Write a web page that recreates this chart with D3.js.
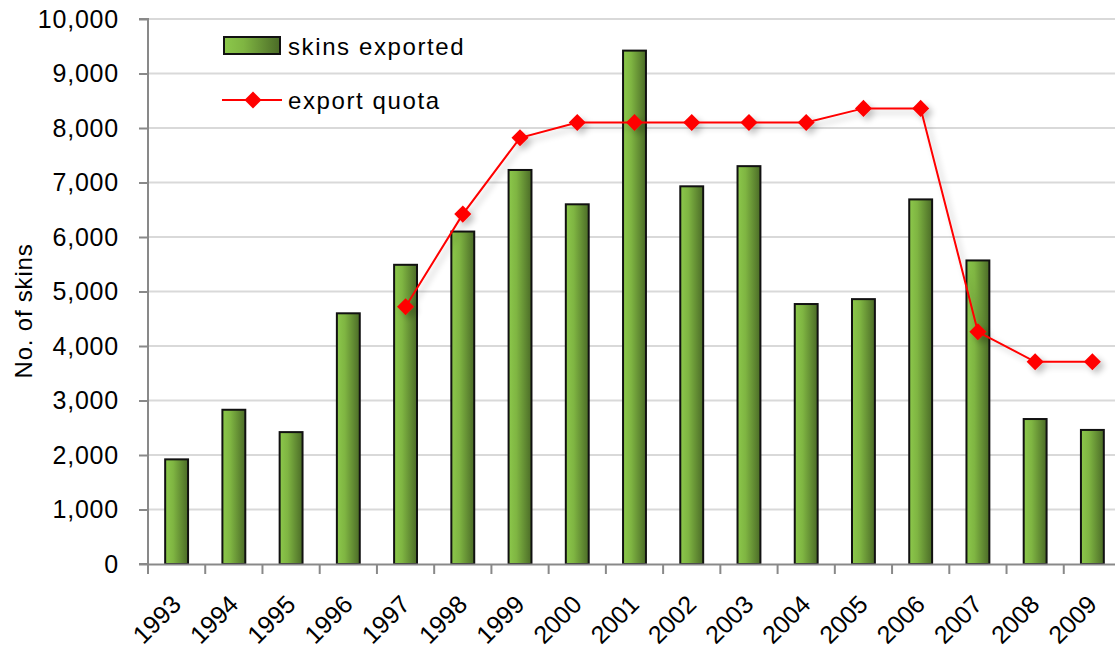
<!DOCTYPE html>
<html><head><meta charset="utf-8">
<script src="https://cdn.jsdelivr.net/npm/d3@7"></script>
<style>
body{margin:0;background:#fff;}
text{font-family:"Liberation Sans",Arial,sans-serif;fill:#000;}
</style></head>
<body><svg id="c" width="1115" height="655"></svg>
<script>
const years = ["1993","1994","1995","1996","1997","1998","1999","2000","2001","2002","2003","2004","2005","2006","2007","2008","2009"];
const skinsExported = [1920,2830,2420,4600,5490,6100,7230,6600,9420,6930,7300,4770,4860,6690,5570,2660,2460];
const exportQuota = [null,null,null,null,4720,6420,7820,8100,8100,8100,8100,8100,8360,8360,4260,3710,3710];
const yTicks = [0,1000,2000,3000,4000,5000,6000,7000,8000,9000,10000];

const svg = d3.select("#c");
const L = 148, R = 1121, T = 19, B = 564;
const FS = 24;
const x = d3.scaleBand().domain(years).range([L, R]).paddingInner(0).paddingOuter(0);
const y = d3.scaleLinear().domain([0, 10000]).range([B, T]);

const defs = svg.append("defs");
const g = defs.append("linearGradient").attr("id","bg").attr("x1","0").attr("x2","1").attr("y1","0").attr("y2","0");
g.append("stop").attr("offset","0%").attr("stop-color","#8cc84b");
g.append("stop").attr("offset","35%").attr("stop-color","#7fb542");
g.append("stop").attr("offset","100%").attr("stop-color","#4b6b27");
const f = defs.append("filter").attr("id","sh").attr("x","-10%").attr("y","-10%").attr("width","130%").attr("height","130%");
f.append("feGaussianBlur").attr("in","SourceAlpha").attr("stdDeviation","3");
f.append("feOffset").attr("dx","4").attr("dy","4").attr("result","ob");
f.append("feComponentTransfer").append("feFuncA").attr("type","linear").attr("slope","0.25");
const fm = f.append("feMerge"); fm.append("feMergeNode"); fm.append("feMergeNode").attr("in","SourceGraphic");

// gridlines
svg.append("g").selectAll("line").data(yTicks.filter(d=>d>0)).join("line")
  .attr("x1", L).attr("x2", R).attr("y1", d=>y(d)).attr("y2", d=>y(d))
  .attr("stroke","#d9d9d9").attr("stroke-width",2);

// y axis
const ya = svg.append("g").attr("transform",`translate(${L},0)`)
  .call(d3.axisLeft(y).tickValues(yTicks).tickSize(9).tickPadding(20).tickFormat(d3.format(",")));
ya.select(".domain").attr("stroke","#898989").attr("stroke-width",2).attr("d",`M-9,${T}H0V${B}H-9`);
ya.selectAll(".tick line").attr("stroke","#898989").attr("stroke-width",2);
ya.selectAll("text").attr("font-size",FS+1).attr("letter-spacing",0.8).attr("font-family","Liberation Sans, Arial, sans-serif").attr("fill","#000");

// bars
svg.append("g").selectAll("rect").data(years).join("rect")
  .attr("x", d=>x(d)+x.bandwidth()*0.3)
  .attr("width", x.bandwidth()*0.4)
  .attr("y", (d,i)=>y(skinsExported[i]))
  .attr("height", (d,i)=>B - y(skinsExported[i]))
  .attr("fill","url(#bg)").attr("stroke","#111").attr("stroke-width",2);

// x axis
const xa = svg.append("g").attr("transform",`translate(0,${B})`)
  .call(d3.axisBottom(x).tickSize(0).tickPadding(0).tickFormat(""));
xa.select(".domain").attr("stroke","#898989").attr("stroke-width",2);
svg.append("g").selectAll("line").data(years).join("line")
  .attr("x1",d=>x(d)).attr("x2",d=>x(d))
  .attr("y1",B).attr("y2",B+10).attr("stroke","#898989").attr("stroke-width",2);
svg.append("g").selectAll("text").data(years).join("text")
  .attr("transform", d=>`translate(${x(d)+x.bandwidth()/2+6},${B+42}) rotate(-45)`)
  .attr("text-anchor","end")
  .attr("font-size",FS+1).text(d=>d);

// quota line
const pts = years.map((d,i)=>({d, v: exportQuota[i]})).filter(p=>p.v!==null);
const line = d3.line().x(p=>x(p.d)+x.bandwidth()/2).y(p=>y(p.v));
const lg = svg.append("g").attr("filter","url(#sh)");
lg.append("path").datum(pts).attr("d",line).attr("fill","none").attr("stroke","#ff0000").attr("stroke-width",2);
lg.selectAll("path.m").data(pts).join("path").attr("class","m")
  .attr("transform",p=>`translate(${x(p.d)+x.bandwidth()/2},${y(p.v)})`)
  .attr("d", d3.symbol().type(d3.symbolDiamond2).size(185))
  .attr("fill","#ff0000");

// legend
svg.append("rect").attr("x",224).attr("y",37).attr("width",56).attr("height",17)
  .attr("fill","url(#bg)").attr("stroke","#111").attr("stroke-width",2);
svg.append("text").attr("x",288).attr("y",46).attr("dominant-baseline","central").attr("font-size",FS).attr("letter-spacing",1.6).text("skins exported");
svg.append("line").attr("x1",222).attr("x2",282).attr("y1",100).attr("y2",100).attr("stroke","#ff0000").attr("stroke-width",2);
svg.append("path").attr("transform","translate(253,100)").attr("d",d3.symbol().type(d3.symbolDiamond2).size(185)).attr("fill","#ff0000");
svg.append("text").attr("x",288).attr("y",100).attr("dominant-baseline","central").attr("font-size",FS).attr("letter-spacing",1.6).text("export quota");

// y title
svg.append("text").attr("transform","translate(23,311) rotate(-90)").attr("text-anchor","middle")
  .attr("dominant-baseline","central").attr("font-size",FS).attr("letter-spacing",0.8).text("No. of skins");
</script></body></html>
